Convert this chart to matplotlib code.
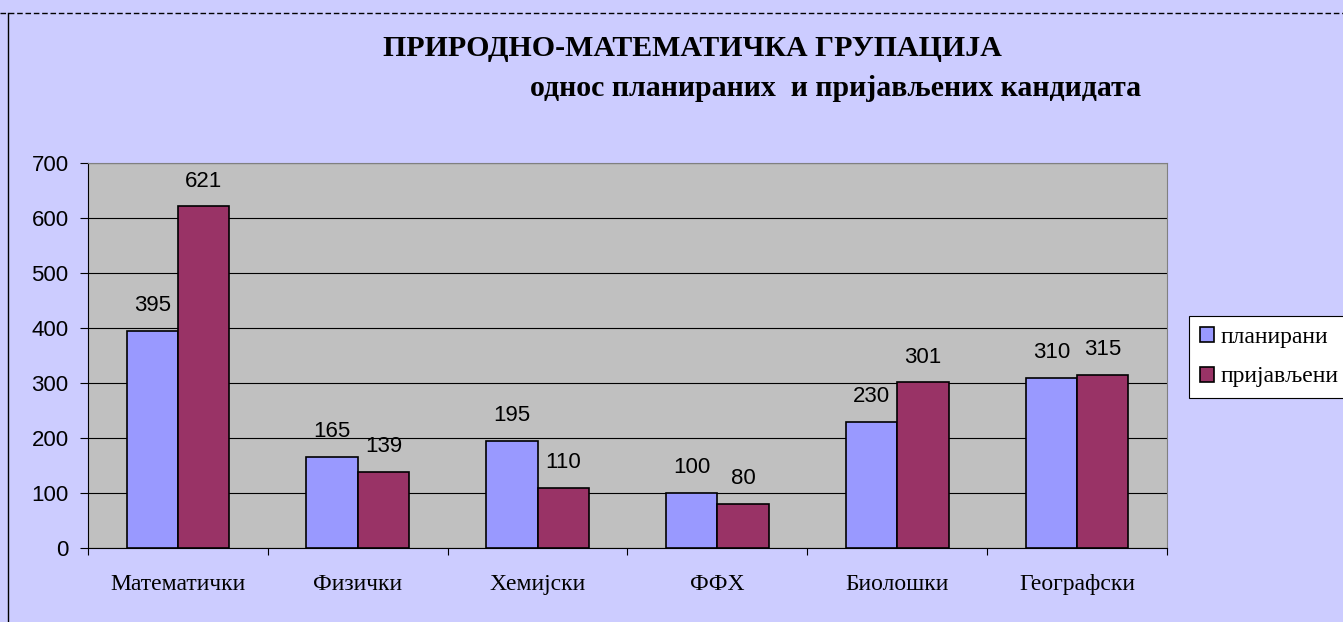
import matplotlib.pyplot as plt
import numpy as np

# data
categories = ['Математички', 'Физички', 'Хемијски', 'ФФХ', 'Биолошки', 'Географски']
planirani = [395, 165, 195, 100, 230, 310]
prijavljeni = [621, 139, 110, 80, 301, 315]
series_names = ['планирани', 'пријављени']

bg = '#CCCCFF'
fig = plt.figure(figsize=(13.43, 6.22), dpi=100, facecolor=bg)
ax = fig.add_axes([88/1343, 1 - 548/622, (1167-88)/1343, (548-163)/622])
ax.set_facecolor('#C0C0C0')

x = np.arange(len(categories))
w = 0.285
b1 = ax.bar(x - w/2, planirani, w, color='#9999FF', edgecolor='black', linewidth=1.2,
            label=series_names[0], zorder=3)
b2 = ax.bar(x + w/2, prijavljeni, w, color='#993366', edgecolor='black', linewidth=1.2,
            label=series_names[1], zorder=3)

# value labels above bars
for bars in (b1, b2):
    for r in bars:
        ax.text(r.get_x() + r.get_width()/2, r.get_height() + 27, f'{int(r.get_height())}',
                ha='center', va='bottom', fontsize=16, family='Liberation Sans', zorder=4)

ax.set_xlim(-0.5, len(categories) - 0.5)
ax.set_ylim(0, 700)
ax.set_yticks(range(0, 701, 100))
ax.yaxis.grid(True, color='black', linewidth=0.8, zorder=0)
ax.set_xticks(np.arange(-0.5, len(categories), 1), minor=False)
ax.set_xticklabels([])
ax.set_xticks(x, minor=True)
ax.set_xticklabels(categories, minor=True, fontsize=17, family='Liberation Serif')
ax.tick_params(axis='x', which='minor', length=0, pad=19)
ax.tick_params(axis='x', which='major', length=5, direction='out')
ax.tick_params(axis='y', length=6, labelsize=16, pad=8)
for lbl in ax.get_yticklabels():
    lbl.set_family('Liberation Sans')
for s in ['top', 'right']:
    ax.spines[s].set_color('#808080')
for s in ['left', 'bottom']:
    ax.spines[s].set_color('black')

fig.text(383/1343, 1 - 48/622, 'ПРИРОДНО-МАТЕМАТИЧКА ГРУПАЦИЈА', ha='left', va='center',
         fontsize=21.5, fontweight='bold', family='Liberation Serif')
fig.text(530/1343, 1 - 88/622, 'однос планираних  и пријављених кандидата', ha='left', va='center',
         fontsize=21.5, fontweight='bold', family='Liberation Serif')

leg = fig.legend(handles=[b1, b2], loc='center left', bbox_to_anchor=(1189/1343, 1 - 357/622),
                 prop={'family': 'Liberation Serif', 'size': 17}, frameon=True, fancybox=False,
                 edgecolor='black', facecolor='white', framealpha=1,
                 handlelength=0.6, handleheight=0.6, handletextpad=0.3,
                 borderpad=0.45, labelspacing=0.8, borderaxespad=0)
leg.get_frame().set_linewidth(0.8)

# outer frame: dashed top line and solid left edge
fig.add_artist(plt.Line2D([0, 1], [1 - 13/622] * 2, color='black', linestyle='--', linewidth=1,
                          dashes=(4, 2), transform=fig.transFigure))
fig.add_artist(plt.Line2D([8/1343] * 2, [0, 1 - 13/622], color='black', linewidth=1,
                          transform=fig.transFigure))

fig.savefig('out.png', dpi=100, facecolor=bg)
